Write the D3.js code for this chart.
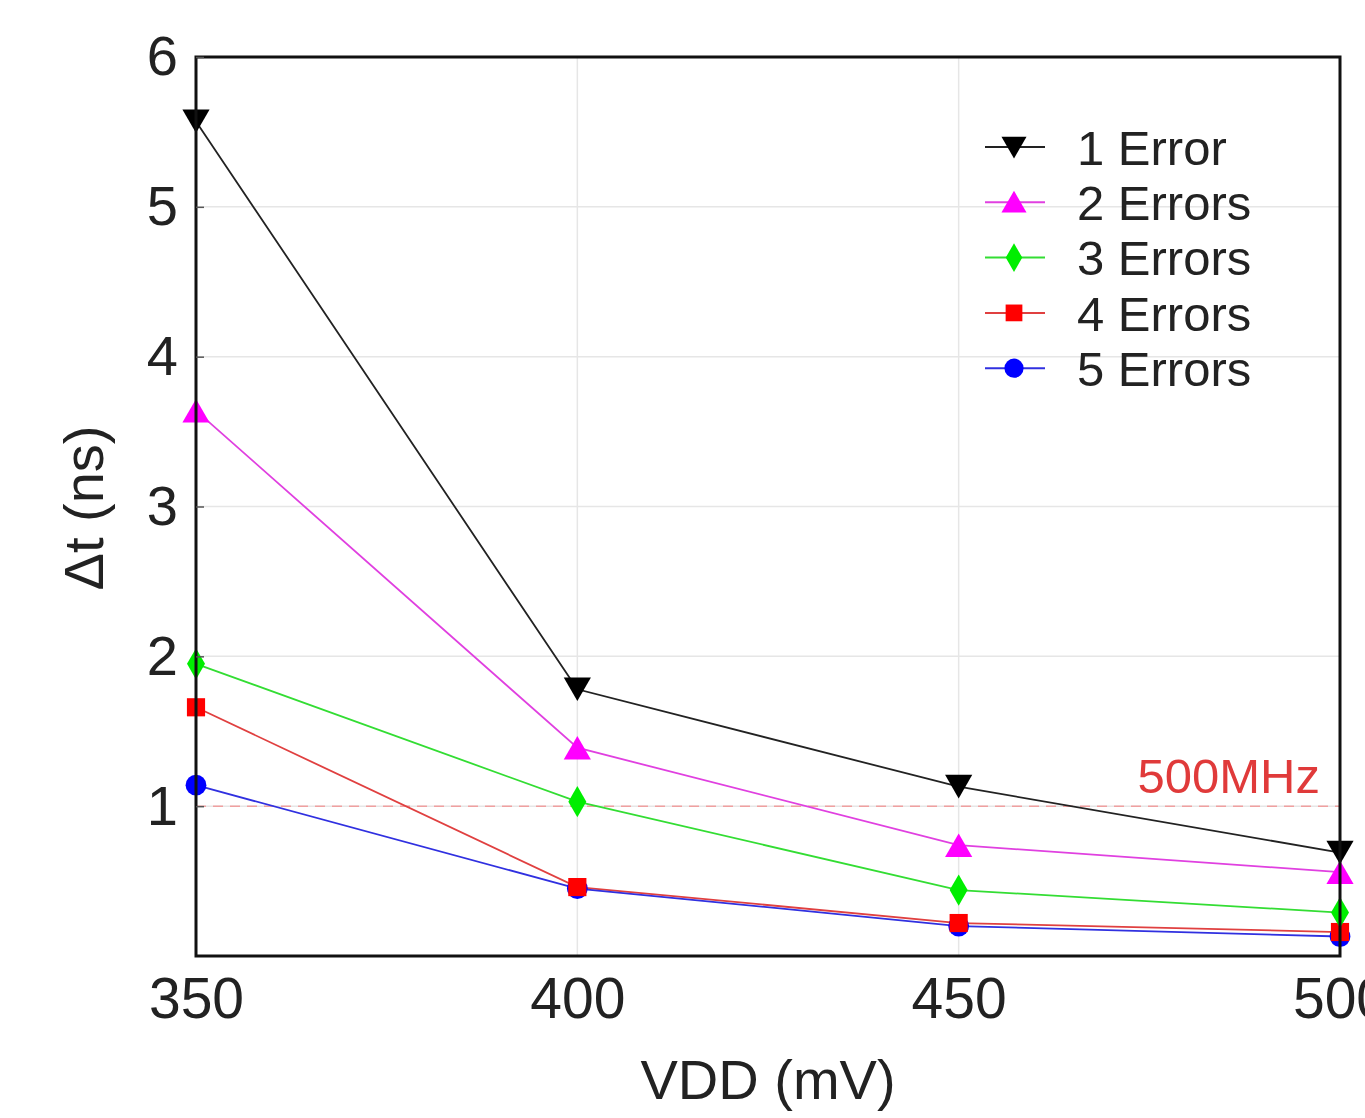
<!DOCTYPE html>
<html>
<head>
<meta charset="utf-8">
<script src="https://cdn.jsdelivr.net/npm/d3@7"></script>
<style>
  body { margin: 0; background: #fff; overflow: hidden; }
  text { font-family: "Liberation Sans", Arial, sans-serif; }
</style>
</head>
<body>
<div id="chart"></div>
<script>
// data
var vdd = [350, 400, 450, 500];
var err1 = [5.57, 1.78, 1.13, 0.69];
var err2 = [3.64, 1.39, 0.74, 0.56];
var err3 = [1.95, 1.03, 0.44, 0.29];
var err4 = [1.66, 0.46, 0.22, 0.16];
var err5 = [1.14, 0.45, 0.20, 0.13];
var seriesNames = ["1 Error", "2 Errors", "3 Errors", "4 Errors", "5 Errors"];
var xTicks = [350, 400, 450, 500];
var yTicks = [1, 2, 3, 4, 5, 6];
var freqLine = 1;
var freqLabel = "500MHz";

var width = 1365;
var height = 1118;
var margin = { top: 57, right: 25, bottom: 162, left: 196 };

var svg = d3.select("#chart")
  .append("svg")
  .attr("width", width)
  .attr("height", height);

var x = d3.scaleLinear().domain([350, 500]).range([margin.left, width - margin.right]);
var y = d3.scaleLinear().domain([0, 6]).range([height - margin.bottom, margin.top]);

var series = [
  { name: seriesNames[0], values: err1, color: "#000000", line: "#222222", symbol: d3.symbolTriangle, size: 320, rot: 180 },
  { name: seriesNames[1], values: err2, color: "#ff00ff", line: "#e040e0", symbol: d3.symbolTriangle, size: 320, rot: 0 },
  { name: seriesNames[2], values: err3, color: "#00ee00", line: "#33dd33", symbol: d3.symbolDiamond, size: 280, rot: 0 },
  { name: seriesNames[3], values: err4, color: "#ff0000", line: "#e04040", symbol: d3.symbolSquare, size: 330, rot: 0 },
  { name: seriesNames[4], values: err5, color: "#0000ff", line: "#3030e0", symbol: d3.symbolCircle, size: 340, rot: 0 }
];

// grid
svg.append("g")
  .selectAll("line")
  .data(yTicks)
  .enter().append("line")
  .attr("x1", x(350)).attr("x2", x(500))
  .attr("y1", function(d) { return y(d); })
  .attr("y2", function(d) { return y(d); })
  .attr("stroke", "#e6e6e6")
  .attr("stroke-width", 1.5);

svg.append("g")
  .selectAll("line")
  .data(xTicks)
  .enter().append("line")
  .attr("x1", function(d) { return x(d); })
  .attr("x2", function(d) { return x(d); })
  .attr("y1", y(0)).attr("y2", y(6))
  .attr("stroke", "#e6e6e6")
  .attr("stroke-width", 1.5);

// 500MHz reference
svg.append("line")
  .attr("x1", x(350)).attr("x2", x(500))
  .attr("y1", y(freqLine)).attr("y2", y(freqLine))
  .attr("stroke", "#f0a0a0")
  .attr("stroke-width", 1.5)
  .attr("stroke-dasharray", "10,7");

svg.append("text")
  .attr("x", x(500) - 20)
  .attr("y", y(freqLine) - 13)
  .attr("text-anchor", "end")
  .attr("fill", "#e03a3a")
  .style("font-size", "49px")
  .text(freqLabel);

// lines and markers
var line = d3.line()
  .x(function(d, i) { return x(vdd[i]); })
  .y(function(d) { return y(d); });

series.forEach(function(s) {
  svg.append("path")
    .attr("d", line(s.values))
    .attr("fill", "none")
    .attr("stroke", s.line)
    .attr("stroke-width", 1.8);
});

series.slice().reverse().forEach(function(s) {
  svg.append("g")
    .selectAll("path")
    .data(s.values)
    .enter().append("path")
    .attr("d", d3.symbol().type(s.symbol).size(s.size)())
    .attr("transform", function(d, i) {
      var dy = s.symbol === d3.symbolTriangle ? (s.rot ? -4 : 4) : 0;
      return "translate(" + x(vdd[i]) + "," + (y(d) + dy) + ") rotate(" + s.rot + ")";
    })
    .attr("fill", s.color);
});

// frame
svg.append("rect")
  .attr("x", x(350)).attr("y", y(6))
  .attr("width", x(500) - x(350))
  .attr("height", y(0) - y(6))
  .attr("fill", "none")
  .attr("stroke", "#111")
  .attr("stroke-width", 3);

// axes
var xAxis = svg.append("g")
  .attr("transform", "translate(0," + y(0) + ")")
  .call(d3.axisBottom(x).tickValues(xTicks).tickSize(0).tickPadding(22).tickFormat(d3.format("d")));
xAxis.select(".domain").remove();
xAxis.selectAll("text").style("font-size", "57px").attr("fill", "#222");

var yAxis = svg.append("g")
  .attr("transform", "translate(" + x(350) + ",0)")
  .call(d3.axisLeft(y).tickValues(yTicks).tickSize(-8).tickPadding(18).tickFormat(d3.format("d")));
yAxis.select(".domain").remove();
yAxis.selectAll(".tick line").attr("stroke", "#555").attr("stroke-width", 1.5);
yAxis.selectAll("text").style("font-size", "56px").attr("fill", "#222");

// axis titles
svg.append("text")
  .attr("x", 768)
  .attr("y", 1099)
  .attr("text-anchor", "middle")
  .attr("fill", "#222")
  .style("font-size", "56px")
  .text("VDD (mV)");

svg.append("text")
  .attr("transform", "translate(103,508) rotate(-90)")
  .attr("text-anchor", "middle")
  .attr("fill", "#222")
  .style("font-size", "56px")
  .text("Δt (ns)");

// legend
var legend = svg.append("g")
  .selectAll("g")
  .data(series)
  .enter().append("g")
  .attr("transform", function(d, i) { return "translate(985," + (147 + i * 55.3) + ")"; });

legend.append("line")
  .attr("x1", 0).attr("x2", 60)
  .attr("stroke", function(d) { return d.line; })
  .attr("stroke-width", 2);

legend.append("path")
  .attr("d", function(d) { return d3.symbol().type(d.symbol).size(d.size * 0.85)(); })
  .attr("transform", function(d) {
    var dy = d.symbol === d3.symbolTriangle ? (d.rot ? -3 : 3) : 0;
    return "translate(29," + dy + ") rotate(" + d.rot + ")";
  })
  .attr("fill", function(d) { return d.color; });

legend.append("text")
  .attr("x", 92)
  .attr("dy", "0.36em")
  .attr("fill", "#222")
  .style("font-size", "49px")
  .text(function(d) { return d.name; });
</script>
</body>
</html>
